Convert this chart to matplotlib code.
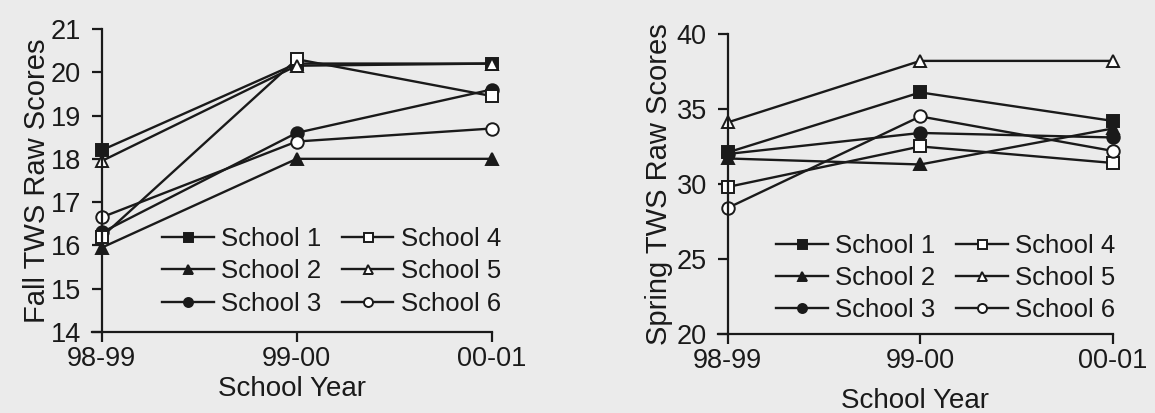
import matplotlib
matplotlib.use("Agg")
import matplotlib.pyplot as plt

# data
years = ["98-99", "99-00", "00-01"]
schools = ["School 1", "School 2", "School 3", "School 4", "School 5", "School 6"]

fall_s1 = [18.2, 20.2, 20.2]
fall_s2 = [15.95, 18.0, 18.0]
fall_s3 = [16.3, 18.6, 19.6]
fall_s4 = [16.2, 20.3, 19.45]
fall_s5 = [17.95, 20.15, 20.2]
fall_s6 = [16.65, 18.4, 18.7]

spring_s1 = [32.1, 36.1, 34.2]
spring_s2 = [31.7, 31.3, 33.7]
spring_s3 = [32.0, 33.4, 33.1]
spring_s4 = [29.8, 32.5, 31.4]
spring_s5 = [34.1, 38.2, 38.2]
spring_s6 = [28.4, 34.5, 32.2]

fall = [fall_s1, fall_s2, fall_s3, fall_s4, fall_s5, fall_s6]
spring = [spring_s1, spring_s2, spring_s3, spring_s4, spring_s5, spring_s6]

markers = ["s", "^", "o", "s", "^", "o"]
faces = ["#1a1a1a", "#1a1a1a", "#1a1a1a", "white", "white", "white"]

bg = "#ebebeb"
ink = "#1a1a1a"

plt.rcParams["font.family"] = ["Liberation Sans", "DejaVu Sans"]

fig = plt.figure(figsize=(11.55, 4.13), dpi=100, facecolor=bg)


def draw_panel(ax, series, ylim, yticks, ylabel, ylabel_x, xlabel_y, leg_xy):
    x = list(range(len(years)))
    for vals, name, m, fc in zip(series, schools, markers, faces):
        ax.plot(x, vals, color=ink, lw=1.7, marker=m, markersize=9,
                markerfacecolor=fc, markeredgecolor=ink, markeredgewidth=1.4,
                label=name, clip_on=False)
    ax.set_facecolor(bg)
    ax.set_xlim(-0.05, 2)
    ax.set_ylim(*ylim)
    ax.set_yticks(yticks)
    ax.set_xticks(x)
    ax.set_xticklabels(years)
    for s in ["top", "right"]:
        ax.spines[s].set_visible(False)
    ax.spines["left"].set_position(("data", 0))
    for s in ["left", "bottom"]:
        ax.spines[s].set_color(ink)
        ax.spines[s].set_linewidth(1.6)
    ax.tick_params(axis="y", direction="out", length=7, width=1.6, pad=8,
                   labelsize=19.5, colors=ink)
    ax.tick_params(axis="x", direction="out", length=7, width=1.6, pad=3,
                   labelsize=19.5, colors=ink)
    ax.set_ylabel(ylabel, fontsize=21, color=ink)
    ax.yaxis.set_label_coords(ylabel_x, 0.5)
    ax.set_xlabel("School Year", fontsize=20, color=ink)
    ax.xaxis.set_label_coords(0.5, xlabel_y)
    ax.legend(ncol=2, loc="center", bbox_to_anchor=leg_xy, frameon=False,
              fontsize=18.5, handlelength=2.0, handletextpad=0.3,
              columnspacing=0.8, labelspacing=0.32, markerscale=0.72,
              labelcolor=ink)


ax1 = fig.add_axes([0.0797, 0.196, 0.346, 0.734])
draw_panel(ax1, fall, (14, 21), range(14, 22), "Fall TWS Raw Scores",
           -0.1025, -0.145, (0.60, 0.20))

ax2 = fig.add_axes([0.6216, 0.191, 0.342, 0.727])
draw_panel(ax2, spring, (20, 40), range(20, 41, 5), "Spring TWS Raw Scores",
           -0.114, -0.178, (0.577, 0.187))

fig.savefig("out.png", dpi=100, facecolor=bg)
